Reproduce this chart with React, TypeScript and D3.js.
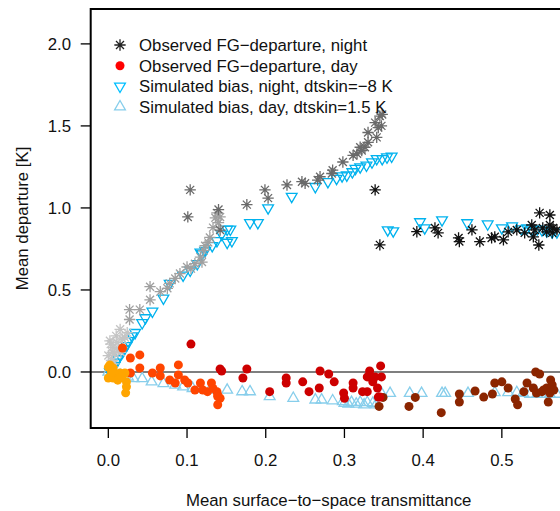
import React from "react";
import * as d3 from "d3";

// ---------- data ----------
const xTicks = [0, 0.1, 0.2, 0.3, 0.4, 0.5];
const yTicks = [0, 0.5, 1.0, 1.5, 2.0];

const legendLabels = [
  "Observed FG\u2212departure, night",
  "Observed FG\u2212departure, day",
  "Simulated bias, night, dtskin=\u22128 K",
  "Simulated bias, day, dtskin=1.5 K",
];

// simulated bias, night (inverted triangles)
const simNight: [number, number][] = [
  [0.002, 0.0], [0.005, 0.02], [0.008, 0.04], [0.01, 0.06], [0.012, 0.08], [0.015, 0.1],
  [0.018, 0.12], [0.02, 0.14], [0.023, 0.16], [0.025, 0.19], [0.03, 0.22], [0.034, 0.24],
  [0.043, 0.3], [0.047, 0.33], [0.056, 0.37], [0.07, 0.45], [0.078, 0.54], [0.095, 0.59],
  [0.104, 0.62], [0.113, 0.66], [0.117, 0.73], [0.119, 0.72], [0.123, 0.74], [0.132, 0.77],
  [0.138, 0.8], [0.144, 0.84], [0.151, 0.87], [0.155, 0.87], [0.151, 0.79], [0.157, 0.8],
  [0.18, 0.91], [0.19, 0.91], [0.203, 1.0], [0.233, 1.07], [0.263, 1.13], [0.279, 1.16],
  [0.29, 1.18], [0.297, 1.195], [0.303, 1.2], [0.31, 1.22], [0.314, 1.24], [0.32, 1.25],
  [0.328, 1.26], [0.335, 1.28], [0.341, 1.3], [0.348, 1.3], [0.354, 1.31], [0.36, 1.315],
  [0.355, 0.866], [0.362, 0.86], [0.396, 0.915], [0.402, 0.878], [0.424, 0.927],
  [0.456, 0.909], [0.482, 0.902], [0.5, 0.878], [0.513, 0.89], [0.525, 0.872],
  [0.532, 0.878], [0.538, 0.866], [0.545, 0.872], [0.551, 0.866], [0.557, 0.86],
  [0.564, 0.854], [0.57, 0.854],
];

// simulated bias, day (triangles)
const simDay: [number, number][] = [
  [0.0, 0.0], [0.005, -0.01], [0.01, -0.02], [0.015, -0.02], [0.02, -0.03], [0.025, -0.03],
  [0.032, -0.04], [0.043, -0.04], [0.055, -0.06], [0.07, -0.07], [0.085, -0.08],
  [0.095, -0.09], [0.107, -0.1], [0.119, -0.105], [0.129, -0.11], [0.151, -0.11],
  [0.17, -0.12], [0.18, -0.12], [0.205, -0.15], [0.235, -0.16], [0.263, -0.17],
  [0.271, -0.17], [0.285, -0.175], [0.298, -0.18], [0.309, -0.185], [0.32, -0.185],
  [0.329, -0.186], [0.336, -0.19], [0.3, -0.19], [0.305, -0.195], [0.315, -0.195],
  [0.325, -0.2], [0.34, -0.2], [0.347, -0.13], [0.358, -0.13], [0.383, -0.13],
  [0.398, -0.13], [0.424, -0.13], [0.428, -0.13], [0.457, -0.13], [0.491, -0.125],
  [0.508, -0.125], [0.519, -0.125], [0.527, -0.13], [0.536, -0.135], [0.545, -0.135],
  [0.553, -0.135], [0.561, -0.135], [0.57, -0.135],
];

// observed, night (stars), grouped by shade
const obsNightLight: [number, number][] = [
  [0.0, 0.1], [0.002, 0.19], [0.005, 0.12], [0.006, 0.15], [0.011, 0.18], [0.015, 0.26],
  [0.021, 0.21], [0.004, 0.07], [0.008, 0.11], [0.013, 0.14], [0.018, 0.2], [0.01, 0.22],
  [0.003, 0.17], [0.016, 0.12], [0.024, 0.24], [0.007, 0.05],
];
const obsNightGray: [number, number][] = [
  [0.027, 0.32], [0.027, 0.38], [0.04, 0.38], [0.053, 0.52], [0.053, 0.44], [0.066, 0.49],
  [0.075, 0.51], [0.078, 0.54], [0.085, 0.57], [0.091, 0.6], [0.1, 0.64], [0.105, 0.63],
  [0.11, 0.66], [0.119, 0.67], [0.117, 0.7], [0.121, 0.74], [0.123, 0.77], [0.127, 0.79],
  [0.129, 0.82], [0.133, 0.88], [0.14, 0.91], [0.136, 0.94], [0.142, 0.945], [0.138, 0.97],
];
const obsNightDark: [number, number][] = [
  [0.104, 1.11], [0.101, 0.945], [0.142, 0.865], [0.14, 0.99], [0.176, 1.02], [0.199, 1.11],
  [0.203, 1.06], [0.227, 1.14], [0.246, 1.16], [0.25, 1.15], [0.266, 1.17], [0.269, 1.19],
  [0.284, 1.21], [0.285, 1.23], [0.298, 1.28], [0.311, 1.32], [0.316, 1.33], [0.322, 1.35],
  [0.32, 1.37], [0.326, 1.37], [0.33, 1.4], [0.341, 1.43], [0.33, 1.46], [0.339, 1.52],
  [0.343, 1.49], [0.347, 1.5], [0.345, 1.56], [0.348, 1.57],
];
const obsNightBlack: [number, number][] = [
  [0.339, 1.11], [0.345, 0.775], [0.392, 0.855], [0.415, 0.878], [0.419, 0.848],
  [0.445, 0.817], [0.446, 0.795], [0.462, 0.866], [0.472, 0.795], [0.487, 0.817],
  [0.491, 0.824], [0.502, 0.805], [0.508, 0.854], [0.519, 0.866], [0.529, 0.848],
  [0.538, 0.896], [0.54, 0.824], [0.542, 0.866], [0.548, 0.97], [0.547, 0.774],
  [0.552, 0.878], [0.557, 0.854], [0.561, 0.957], [0.561, 0.896], [0.565, 0.878],
  [0.564, 0.848], [0.57, 0.866],
];

// observed, day (dots), grouped by colour
const obsDayOrange: [number, number][] = [
  [0.0, 0.03], [0.0, -0.037], [0.008, -0.006], [0.015, -0.006], [0.021, -0.006],
  [0.023, -0.06], [0.023, -0.09], [0.022, -0.127], [0.006, -0.037], [0.012, -0.05],
  [0.002, 0.043], [0.006, 0.024], [0.004, 0.0], [0.017, -0.03],
];
const obsDayOrangeRed: [number, number][] = [
  [0.018, 0.146], [0.028, 0.085], [0.04, 0.104], [0.04, 0.024], [0.028, -0.006],
  [0.056, -0.006], [0.066, 0.024], [0.066, -0.024], [0.078, -0.049], [0.085, -0.067],
  [0.089, 0.043], [0.089, -0.018], [0.097, -0.049], [0.101, -0.067], [0.11, -0.11],
  [0.117, -0.067], [0.12, -0.11], [0.126, -0.12], [0.131, -0.067], [0.133, -0.1],
  [0.138, -0.12], [0.139, -0.14], [0.142, -0.16], [0.139, -0.2], [0.139, -0.15],
];
const obsDayRed: [number, number][] = [
  [0.105, 0.17], [0.142, 0.018], [0.144, 0.006], [0.176, 0.018], [0.171, -0.037],
  [0.205, -0.12], [0.226, -0.037], [0.226, -0.067], [0.247, -0.06], [0.255, -0.12],
  [0.269, 0.006], [0.268, -0.098], [0.28, -0.012], [0.287, -0.06], [0.299, -0.128],
  [0.3, -0.16], [0.311, -0.067], [0.311, -0.098], [0.323, -0.12], [0.329, -0.12],
  [0.329, -0.03], [0.332, 0.006], [0.339, -0.03], [0.336, -0.06], [0.346, 0.037],
  [0.347, -0.03], [0.342, -0.098], [0.343, -0.153], [0.345, -0.153],
];
const obsDayBrown: [number, number][] = [
  [0.344, -0.21], [0.349, -0.155], [0.382, -0.21], [0.39, -0.155], [0.423, -0.248],
  [0.446, -0.134], [0.446, -0.183], [0.466, -0.116], [0.477, -0.153], [0.488, -0.134],
  [0.491, -0.067], [0.5, -0.06], [0.508, -0.098], [0.517, -0.165], [0.52, -0.2],
  [0.528, -0.12], [0.532, -0.067], [0.543, 0.0], [0.548, -0.012], [0.54, -0.098],
  [0.544, -0.128], [0.551, -0.12], [0.557, -0.098], [0.559, -0.183], [0.562, -0.049],
  [0.564, -0.079], [0.553, -0.11], [0.561, -0.128], [0.566, -0.11],
];

// ---------- layout ----------
const W = 560;
const H = 511;
const left = 90.7;
const right = 566.7;
const top = 9;
const bottom = 428;
const FONT = "'Liberation Sans', Arial, Helvetica, sans-serif";
const FS = 16.8;
const S = 4.0; // R symbol radius
const DOT_R = 4.5;

const x = d3.scaleLinear().domain([-0.0224, 0.5824]).range([left, right]);
const y = d3.scaleLinear().domain([-0.3415, 2.2127]).range([bottom, top]);

function starPath(cx: number, cy: number) {
  const a = S * Math.SQRT2;
  const d = S;
  return `M${cx - a},${cy}L${cx + a},${cy}M${cx},${cy - a}L${cx},${cy + a}` +
    `M${cx - d},${cy - d}L${cx + d},${cy + d}M${cx - d},${cy + d}L${cx + d},${cy - d}`;
}
function triPath(cx: number, cy: number, up: boolean) {
  const r = 1.5551 * S, hx = 1.3468 * S, yc = 0.7776 * S;
  const s = up ? 1 : -1;
  return `M${cx},${cy - s * r}L${cx + hx},${cy + s * yc}L${cx - hx},${cy + s * yc}Z`;
}

const C_SIM_NIGHT = "#00B2EE";
const C_SIM_DAY = "#87CEEB";

export default function App() {
  const stars = (pts: [number, number][], color: string, key: string) =>
    pts.map((p, i) => (
      <path key={key + i} d={starPath(x(p[0]), y(p[1]))} stroke={color} strokeWidth={1.3} fill="none" />
    ));
  const dots = (pts: [number, number][], color: string, key: string) =>
    pts.map((p, i) => <circle key={key + i} cx={x(p[0])} cy={y(p[1])} r={DOT_R} fill={color} />);
  const tris = (pts: [number, number][], color: string, up: boolean, key: string) =>
    pts.map((p, i) => (
      <path key={key + i} d={triPath(x(p[0]), y(p[1]), up)} stroke={color} strokeWidth={1.3} fill="none" />
    ));

  const legendY = [45, 65.7, 86.3, 106.7];

  return (
    <svg width={W} height={H} style={{ position: "absolute", left: 0, top: 0 }} fontFamily={FONT}>
      <rect x={0} y={0} width={W} height={H} fill="#fff" />
      <defs>
        <clipPath id="plotclip">
          <rect x={left} y={top} width={right - left} height={bottom - top} />
        </clipPath>
      </defs>

      {/* zero line */}
      <line x1={left} x2={right} y1={y(0)} y2={y(0)} stroke="#555" strokeWidth={1.5} />

      <g clipPath="url(#plotclip)">
        {tris(simNight, C_SIM_NIGHT, false, "sn")}
        {tris(simDay, C_SIM_DAY, true, "sd")}
        {stars(obsNightLight, "#C4C4C4", "nl")}
        {stars(obsNightGray, "#A0A0A0", "ng")}
        {stars(obsNightDark, "#6A6A6A", "nd")}
        {stars(obsNightBlack, "#111", "nb")}
        {dots(obsDayBrown, "#8B2500", "db")}
        {dots(obsDayRed, "#CD0000", "dr")}
        {dots(obsDayOrangeRed, "#FF4500", "do")}
        {dots(obsDayOrange, "#FFA500", "dy")}
      </g>

      {/* box */}
      <rect x={left} y={top} width={right - left} height={bottom - top} fill="none" stroke="#000" strokeWidth={2} />

      {/* y axis */}
      {yTicks.map((t) => (
        <g key={"yt" + t}>
          <line x1={left - 10} x2={left} y1={y(t)} y2={y(t)} stroke="#000" strokeWidth={1.3} />
          <text x={71} y={y(t) + 6} textAnchor="end" fontSize={FS} fill="#111">
            {t.toFixed(1)}
          </text>
        </g>
      ))}
      {/* x axis */}
      {xTicks.map((t) => (
        <g key={"xt" + t}>
          <line x1={x(t)} x2={x(t)} y1={bottom} y2={bottom + 10} stroke="#000" strokeWidth={1.3} />
          <text x={x(t)} y={466} textAnchor="middle" fontSize={FS} fill="#111">
            {t.toFixed(1)}
          </text>
        </g>
      ))}

      <text x={(left + right) / 2} y={506} textAnchor="middle" fontSize={FS} fill="#111">
        Mean surface{"\u2212"}to{"\u2212"}space transmittance
      </text>
      <text
        transform={`translate(28,${(top + bottom) / 2}) rotate(-90)`}
        textAnchor="middle"
        fontSize={FS}
        fill="#111"
      >
        Mean departure [K]
      </text>

      {/* legend */}
      <path d={starPath(120, legendY[0])} stroke="#222" strokeWidth={1.3} fill="none" />
      <circle cx={120} cy={legendY[1]} r={DOT_R} fill="#FF0000" />
      <path d={triPath(120, legendY[2], false)} stroke="#00BFFF" strokeWidth={1.3} fill="none" />
      <path d={triPath(120, legendY[3], true)} stroke={C_SIM_DAY} strokeWidth={1.3} fill="none" />
      {legendLabels.map((l, i) => (
        <text key={"lg" + i} x={139} y={legendY[i] + 6} fontSize={FS} fill="#111">
          {l}
        </text>
      ))}
    </svg>
  );
}
